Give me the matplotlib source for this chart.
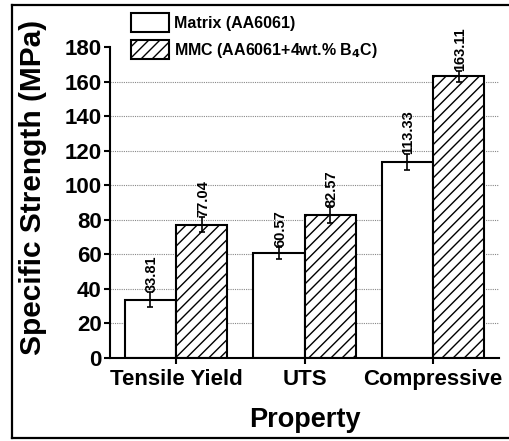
import matplotlib
matplotlib.use("Agg")
import matplotlib.pyplot as plt
import numpy as np
from matplotlib.lines import Line2D

plt.rcParams['font.family'] = ['Liberation Sans', 'DejaVu Sans']
plt.rcParams['font.weight'] = 'bold'
plt.rcParams['axes.labelweight'] = 'bold'
plt.rcParams['mathtext.default'] = 'bf'
plt.rcParams['hatch.linewidth'] = 1.0

categories = ["Tensile Yield", "UTS", "Compressive"]
matrix_vals = [33.81, 60.57, 113.33]
mmc_vals = [77.04, 82.57, 163.11]
matrix_err = [4.2, 3.4, 4.5]
mmc_err = [4.3, 4.6, 3.2]
yticks = [0, 20, 40, 60, 80, 100, 120, 140, 160, 180]
grid_levels = [20, 40, 60, 80, 100, 120, 140, 160]
series_labels = ["Matrix (AA6061)", "MMC (AA6061+4wt.% B$_4$C)"]

fig = plt.figure(figsize=(5.10, 4.41), dpi=100)
ax = fig.add_axes([110/510, 83/441, 389/510, 311/441])

x = np.arange(len(categories))
w = 0.4

for g in grid_levels:
    ax.axhline(g, color='#888888', lw=0.8, ls=(0, (1, 1)), zorder=0)

b1 = ax.bar(x - w/2, matrix_vals, w, color='white', edgecolor='black', lw=1.5,
            label=series_labels[0], zorder=2)
b2 = ax.bar(x + w/2, mmc_vals, w, color='white', edgecolor='black', lw=1.5,
            hatch='///', label=series_labels[1], zorder=2)
ax.errorbar(x - w/2, matrix_vals, yerr=matrix_err, fmt='none', ecolor='black',
            elinewidth=1.2, capsize=2.5, capthick=1.2, zorder=3)
ax.errorbar(x + w/2, mmc_vals, yerr=mmc_err, fmt='none', ecolor='black',
            elinewidth=1.2, capsize=2.5, capthick=1.2, zorder=3)

for xs, vals, errs in [(x - w/2, matrix_vals, matrix_err), (x + w/2, mmc_vals, mmc_err)]:
    for xi, v, e in zip(xs, vals, errs):
        ax.text(xi + 0.01, v + e, f"{v:.2f}", rotation=90, ha='center', va='bottom',
                fontsize=10.5, fontweight='bold', zorder=4)

ax.set_xlim(-0.514, 2.514)
ax.set_ylim(0, 180)
ax.set_yticks(yticks)
ax.set_xticks(x)
ax.set_xticklabels(categories)
ax.tick_params(axis='both', labelsize=16, direction='out', length=4, width=1.5, pad=2)
ax.tick_params(axis='x', pad=4)
for s in ['top', 'right']:
    ax.spines[s].set_visible(False)
for s in ['left', 'bottom']:
    ax.spines[s].set_linewidth(1.5)

ax.set_ylabel("Specific Strength (MPa)", fontsize=21.5, fontweight='bold')
ax.yaxis.set_label_coords(-0.163, 0.547)
ax.set_xlabel("Property", fontsize=19.5, fontweight='bold', labelpad=12)

leg = fig.legend(handles=[b1, b2], labels=series_labels, loc='upper left',
                 bbox_to_anchor=(131/510, 1 - 13/441), frameon=False, fontsize=11.5,
                 handlelength=2.4, handleheight=1.45, handletextpad=0.3,
                 labelspacing=0.5, borderpad=0.0, borderaxespad=0.0)

frame_kw = dict(transform=fig.transFigure, color='black', lw=1.6, clip_on=False)
fig.add_artist(Line2D([12/510, 12/510], [3/441, 1 - 5/441], **frame_kw))
fig.add_artist(Line2D([12/510, 1.0], [1 - 5/441, 1 - 5/441], **frame_kw))
fig.add_artist(Line2D([12/510, 1.0], [3/441, 3/441], **frame_kw))

fig.savefig("out.png", dpi=100)
